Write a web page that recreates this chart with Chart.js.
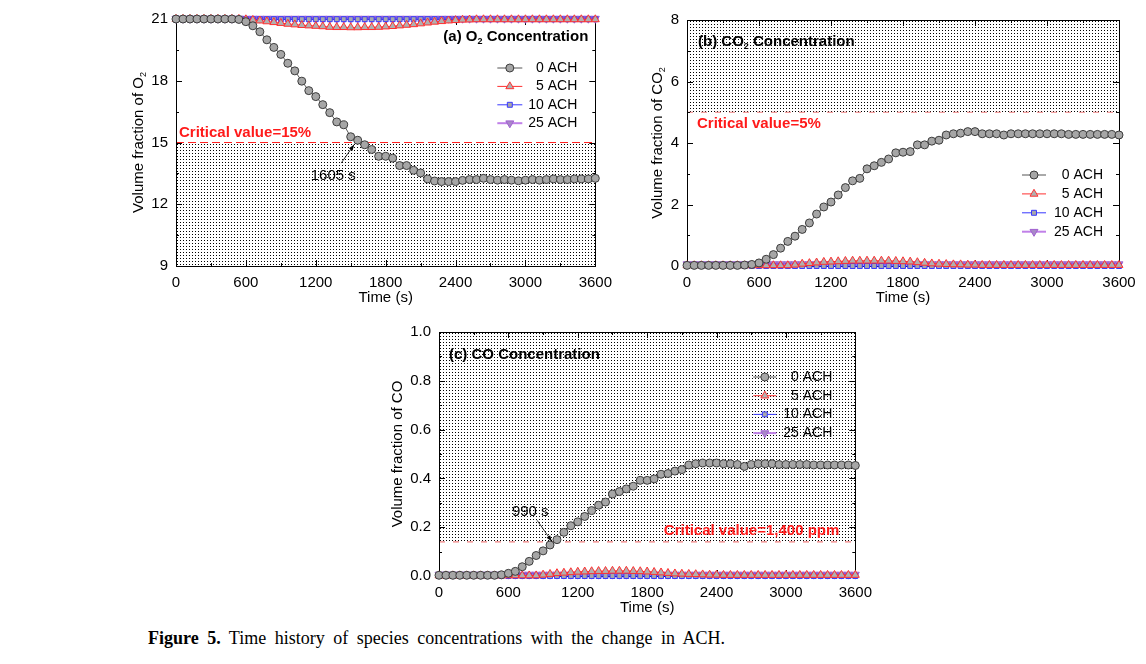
<!DOCTYPE html>
<html>
<head>
<meta charset="utf-8">
<script src="https://cdn.jsdelivr.net/npm/chart.js@4.4.1/dist/chart.umd.min.js"></script>
<style>
  body { margin: 0; background: #fff; width: 1146px; height: 664px; position: relative; overflow: hidden; }
  canvas { position: absolute; }
  #caption { position: absolute; left: 148px; top: 628px; font-family: "Liberation Serif", "Times New Roman", serif;
             font-size: 18px; white-space: nowrap; word-spacing: 4px; color: #000; }
</style>
</head>
<body>
<canvas id="chartA" width="500" height="310" style="left:120px;top:0px"></canvas>
<canvas id="chartB" width="516" height="310" style="left:630px;top:0px"></canvas>
<canvas id="chartC" width="500" height="305" style="left:380px;top:315px"></canvas>
<div id="caption"><b>Figure 5.</b> Time history of species concentrations with the change in ACH.</div>
<script>
// time axis (s), one sample every 60 s
const times = [0, 60, 120, 180, 240, 300, 360, 420, 480, 540,
  600, 660, 720, 780, 840, 900, 960, 1020, 1080, 1140,
  1200, 1260, 1320, 1380, 1440, 1500, 1560, 1620, 1680, 1740,
  1800, 1860, 1920, 1980, 2040, 2100, 2160, 2220, 2280, 2340,
  2400, 2460, 2520, 2580, 2640, 2700, 2760, 2820, 2880, 2940,
  3000, 3060, 3120, 3180, 3240, 3300, 3360, 3420, 3480, 3540,
  3600];

const seriesNames = ['0 ACH', '5 ACH', '10 ACH', '25 ACH'];

// (a) O2 volume fraction (%)
const o2_0ach = [21.0, 21.0, 21.0, 21.0, 21.0, 21.0, 21.0, 21.0, 21.0, 20.98,
  20.87, 20.67, 20.38, 19.99, 19.62, 19.28, 18.85, 18.48, 17.98, 17.52,
  17.23, 16.84, 16.45, 16.0, 15.86, 15.28, 15.11, 14.89, 14.66, 14.33,
  14.33, 14.24, 13.88, 13.88, 13.65, 13.52, 13.23, 13.13, 13.1, 13.1,
  13.1, 13.16, 13.2, 13.2, 13.26, 13.2, 13.17, 13.2, 13.17, 13.14,
  13.17, 13.2, 13.17, 13.2, 13.23, 13.2, 13.2, 13.23, 13.23, 13.23,
  13.26];
const o2_5ach = [21.0, 21.0, 21.0, 21.0, 21.0, 21.0, 21.0, 21.0, 21.0, 21.0,
  20.98, 20.95, 20.92, 20.88, 20.84, 20.8, 20.76, 20.73, 20.7, 20.68,
  20.66, 20.64, 20.61, 20.6, 20.6, 20.59, 20.59, 20.6, 20.6, 20.61,
  20.63, 20.65, 20.68, 20.71, 20.74, 20.78, 20.82, 20.86, 20.89, 20.92,
  20.94, 20.96, 20.97, 20.98, 20.98, 20.98, 20.98, 20.98, 20.98, 20.98,
  20.98, 20.98, 20.98, 20.98, 20.98, 20.98, 20.98, 20.98, 20.98, 20.98,
  20.98];
const o2_10ach = [20.99, 20.99, 20.99, 20.99, 20.99, 20.99, 20.99, 20.99, 20.99, 20.99,
  20.99, 20.99, 20.99, 20.99, 20.99, 20.99, 20.99, 20.99, 20.99, 20.99,
  20.99, 20.99, 20.99, 20.99, 20.99, 20.99, 20.99, 20.99, 20.99, 20.99,
  20.99, 20.99, 20.99, 20.99, 20.99, 20.99, 20.99, 20.99, 20.99, 20.99,
  20.99, 20.99, 20.99, 20.99, 20.99, 20.99, 20.99, 20.99, 20.99, 20.99,
  20.99, 20.99, 20.99, 20.99, 20.99, 20.99, 20.99, 20.99, 20.99, 20.99,
  20.99];
const o2_25ach = [21.02, 21.02, 21.02, 21.02, 21.02, 21.02, 21.02, 21.02, 21.02, 21.02,
  21.02, 21.02, 21.02, 21.02, 21.02, 21.02, 21.02, 21.02, 21.02, 21.02,
  21.02, 21.02, 21.02, 21.02, 21.02, 21.02, 21.02, 21.02, 21.02, 21.02,
  21.02, 21.02, 21.02, 21.02, 21.02, 21.02, 21.02, 21.02, 21.02, 21.02,
  21.02, 21.02, 21.02, 21.02, 21.02, 21.02, 21.02, 21.02, 21.02, 21.02,
  21.02, 21.02, 21.02, 21.02, 21.02, 21.02, 21.02, 21.02, 21.02, 21.02,
  21.02];

// (b) CO2 volume fraction (%)
const co2_0ach = [0.02, 0.02, 0.02, 0.02, 0.02, 0.02, 0.02, 0.02, 0.03, 0.05,
  0.1, 0.22, 0.37, 0.58, 0.8, 0.97, 1.19, 1.4, 1.69, 1.92,
  2.08, 2.31, 2.55, 2.77, 2.85, 3.16, 3.26, 3.37, 3.48, 3.68,
  3.7, 3.72, 3.94, 3.94, 4.06, 4.09, 4.26, 4.3, 4.32, 4.37,
  4.37, 4.3, 4.3, 4.3, 4.26, 4.3, 4.3, 4.3, 4.3, 4.3,
  4.3, 4.3, 4.3, 4.28, 4.28, 4.28, 4.28, 4.28, 4.28, 4.28,
  4.26];
const co2_5ach = [0.02, 0.02, 0.02, 0.02, 0.02, 0.02, 0.02, 0.02, 0.02, 0.02,
  0.02, 0.02, 0.02, 0.02, 0.02, 0.04, 0.07, 0.09, 0.11, 0.13,
  0.14, 0.15, 0.16, 0.17, 0.17, 0.17, 0.17, 0.17, 0.17, 0.16,
  0.15, 0.14, 0.12, 0.1, 0.08, 0.07, 0.06, 0.05, 0.05, 0.04,
  0.04, 0.03, 0.03, 0.03, 0.03, 0.03, 0.03, 0.03, 0.03, 0.03,
  0.03, 0.03, 0.03, 0.03, 0.03, 0.03, 0.03, 0.03, 0.03, 0.03,
  0.03];
const co2_10ach = [0.0, 0.0, 0.0, 0.0, 0.0, 0.0, 0.0, 0.0, 0.0, 0.0,
  0.0, 0.0, 0.0, 0.0, 0.0, 0.0, 0.0, 0.0, 0.0, 0.0,
  0.0, 0.0, 0.0, 0.0, 0.0, 0.0, 0.0, 0.0, 0.0, 0.0,
  0.0, 0.0, 0.0, 0.0, 0.0, 0.0, 0.0, 0.0, 0.0, 0.0,
  0.0, 0.0, 0.0, 0.0, 0.0, 0.0, 0.0, 0.0, 0.0, 0.0,
  0.0, 0.0, 0.0, 0.0, 0.0, 0.0, 0.0, 0.0, 0.0, 0.0,
  0.0];
const co2_25ach = [0.06, 0.06, 0.06, 0.06, 0.06, 0.06, 0.06, 0.06, 0.06, 0.06,
  0.06, 0.06, 0.06, 0.06, 0.06, 0.06, 0.06, 0.06, 0.06, 0.06,
  0.06, 0.06, 0.06, 0.06, 0.06, 0.06, 0.06, 0.06, 0.06, 0.06,
  0.06, 0.06, 0.06, 0.06, 0.06, 0.06, 0.06, 0.06, 0.06, 0.06,
  0.06, 0.06, 0.06, 0.06, 0.06, 0.06, 0.06, 0.06, 0.06, 0.06,
  0.06, 0.06, 0.06, 0.06, 0.06, 0.06, 0.06, 0.06, 0.06, 0.06,
  0.06];

// (c) CO volume fraction (%)
const co_0ach = [0.003, 0.003, 0.003, 0.003, 0.003, 0.003, 0.003, 0.003, 0.003, 0.005,
  0.011, 0.019, 0.038, 0.06, 0.084, 0.103, 0.127, 0.149, 0.179, 0.206,
  0.222, 0.244, 0.268, 0.29, 0.303, 0.336, 0.346, 0.357, 0.368, 0.392,
  0.392, 0.398, 0.417, 0.42, 0.43, 0.436, 0.455, 0.46, 0.463, 0.463,
  0.463, 0.46, 0.46, 0.457, 0.449, 0.457, 0.46, 0.46, 0.46, 0.457,
  0.457, 0.457, 0.457, 0.457, 0.455, 0.455, 0.455, 0.455, 0.455, 0.455,
  0.453];
const co_5ach = [0.002, 0.002, 0.002, 0.002, 0.002, 0.002, 0.002, 0.002, 0.002, 0.002,
  0.002, 0.002, 0.002, 0.002, 0.002, 0.005, 0.008, 0.011, 0.013, 0.015,
  0.017, 0.018, 0.019, 0.02, 0.02, 0.021, 0.021, 0.021, 0.02, 0.019,
  0.018, 0.016, 0.014, 0.012, 0.01, 0.009, 0.008, 0.007, 0.006, 0.005,
  0.005, 0.004, 0.004, 0.004, 0.004, 0.004, 0.004, 0.004, 0.004, 0.004,
  0.004, 0.004, 0.004, 0.004, 0.004, 0.004, 0.004, 0.004, 0.004, 0.004,
  0.004];
const co_10ach = [0.0, 0.0, 0.0, 0.0, 0.0, 0.0, 0.0, 0.0, 0.0, 0.0,
  0.0, 0.0, 0.0, 0.0, 0.0, 0.0, 0.0, 0.0, 0.0, 0.0,
  0.0, 0.0, 0.0, 0.0, 0.0, 0.0, 0.0, 0.0, 0.0, 0.0,
  0.0, 0.0, 0.0, 0.0, 0.0, 0.0, 0.0, 0.0, 0.0, 0.0,
  0.0, 0.0, 0.0, 0.0, 0.0, 0.0, 0.0, 0.0, 0.0, 0.0,
  0.0, 0.0, 0.0, 0.0, 0.0, 0.0, 0.0, 0.0, 0.0, 0.0,
  0.0];
const co_25ach = [0.006, 0.006, 0.006, 0.006, 0.006, 0.006, 0.006, 0.006, 0.006, 0.006,
  0.006, 0.006, 0.006, 0.006, 0.006, 0.006, 0.006, 0.006, 0.006, 0.006,
  0.006, 0.006, 0.006, 0.006, 0.006, 0.006, 0.006, 0.006, 0.006, 0.006,
  0.006, 0.006, 0.006, 0.006, 0.006, 0.006, 0.006, 0.006, 0.006, 0.006,
  0.006, 0.006, 0.006, 0.006, 0.006, 0.006, 0.006, 0.006, 0.006, 0.006,
  0.006, 0.006, 0.006, 0.006, 0.006, 0.006, 0.006, 0.006, 0.006, 0.006,
  0.006];

// marker / line look per series
const lineColors = ['#555555', '#ff3030', '#3838ff', '#c080e8'];
const lineWidths = [1, 1, 1, 2];
const markerStyles = ['circle', 'triangle', 'rect', 'triangle'];
const markerRot = [0, 0, 0, 180];
const markerSize = [4, 4.6, 3.5, 4.6];
const markerFill = ['#a6a6a6', '#b0b0b0', '#a8a8a8', '#a888c8'];
const markerEdge = ['#3c3c3c', '#ff3030', '#3838ff', '#a060d0'];

Chart.defaults.font.family = "'Liberation Sans', Arial, sans-serif";
const FONT = "'Liberation Sans', Arial, sans-serif";

function stipple(ctx) {
  const p = document.createElement('canvas');
  p.width = 3; p.height = 3;
  const g = p.getContext('2d');
  g.fillStyle = '#000';
  g.fillRect(0, 0, 1, 1);
  return ctx.createPattern(p, 'repeat');
}

// draw text made of normal / subscript pieces
function drawParts(ctx, parts, x, y, align, size, bold, color) {
  const main = (bold ? 'bold ' : '') + size + 'px ' + FONT;
  const sub = (bold ? 'bold ' : '') + Math.round(size * 0.62) + 'px ' + FONT;
  let w = 0;
  parts.forEach(([t, s]) => { ctx.font = s ? sub : main; w += ctx.measureText(t).width; });
  let cx = align === 'right' ? x - w : align === 'center' ? x - w / 2 : x;
  ctx.fillStyle = color;
  ctx.textAlign = 'left';
  ctx.textBaseline = 'middle';
  parts.forEach(([t, s]) => {
    ctx.font = s ? sub : main;
    ctx.fillText(t, cx, s ? y + size * 0.3 : y);
    cx += ctx.measureText(t).width;
  });
}

function arrow(ctx, x0, y0, x1, y1) {
  const ang = Math.atan2(y1 - y0, x1 - x0);
  ctx.strokeStyle = '#000';
  ctx.fillStyle = '#000';
  ctx.lineWidth = 0.8;
  ctx.beginPath(); ctx.moveTo(x0, y0); ctx.lineTo(x1, y1); ctx.stroke();
  ctx.beginPath();
  ctx.moveTo(x1, y1);
  ctx.lineTo(x1 - 6 * Math.cos(ang) + 2.2 * Math.sin(ang), y1 - 6 * Math.sin(ang) - 2.2 * Math.cos(ang));
  ctx.lineTo(x1 - 6 * Math.cos(ang) - 2.2 * Math.sin(ang), y1 - 6 * Math.sin(ang) + 2.2 * Math.cos(ang));
  ctx.closePath(); ctx.fill();
}

function makeDecor(p) {
  return {
    id: 'decor',
    beforeDatasetsDraw(chart) {
      const { ctx, chartArea: a, scales: { x, y } } = chart;
      ctx.save();
      // stippled region
      const s0 = y.getPixelForValue(p.shade[0]), s1 = y.getPixelForValue(p.shade[1]);
      ctx.fillStyle = stipple(ctx);
      ctx.fillRect(a.left, Math.min(s0, s1), a.right - a.left, Math.abs(s1 - s0));
      // critical value line
      const yc = y.getPixelForValue(p.critical);
      ctx.strokeStyle = p.critColor;
      ctx.lineWidth = 1.2;
      ctx.setLineDash(p.dash);
      ctx.beginPath(); ctx.moveTo(a.left, yc); ctx.lineTo(a.right, yc); ctx.stroke();
      ctx.setLineDash([]);
      // frame
      ctx.strokeStyle = '#000';
      ctx.lineWidth = 1;
      ctx.strokeRect(Math.round(a.left) + 0.5, Math.round(a.top) + 0.5,
        Math.round(a.right - a.left), Math.round(a.bottom - a.top));
      // inward ticks on all four sides
      ctx.beginPath();
      for (let v = 0; v <= 3600; v += 300) {
        const px = Math.round(x.getPixelForValue(v)) + 0.5;
        const len = v % 600 === 0 ? 6 : 3;
        ctx.moveTo(px, a.bottom); ctx.lineTo(px, a.bottom - len);
        ctx.moveTo(px, a.top); ctx.lineTo(px, a.top + len);
      }
      const n = Math.round((p.yMax - p.yMin) / (p.yStep / 2));
      for (let i = 0; i <= n; i++) {
        const v = p.yMin + i * p.yStep / 2;
        const py = Math.round(y.getPixelForValue(v)) + 0.5;
        const len = i % 2 === 0 ? 6 : 3;
        ctx.moveTo(a.left, py); ctx.lineTo(a.left + len, py);
        ctx.moveTo(a.right, py); ctx.lineTo(a.right - len, py);
      }
      ctx.stroke();
      ctx.restore();
    },
    afterDatasetsDraw(chart) {
      const { ctx, chartArea: a, scales: { x, y } } = chart;
      ctx.save();
      // y axis title
      ctx.translate(a.left - p.yTitleOff, (a.top + a.bottom) / 2);
      ctx.rotate(-Math.PI / 2);
      drawParts(ctx, p.yTitle, 0, 0, 'center', 15, false, '#000');
      ctx.restore();

      ctx.save();
      // panel title
      const t = p.title;
      drawParts(ctx, t.parts, t.align === 'right' ? a.right - t.dx : a.left + t.dx, a.top + t.dy,
        t.align, 15, true, '#000');
      // critical value text
      const yc = y.getPixelForValue(p.critical);
      const c = p.critText;
      drawParts(ctx, [[c.text, 0]], c.align === 'right' ? a.right - c.dx : a.left + c.dx, yc + c.dy,
        c.align, 15, true, '#ff1a1a');
      // annotation arrow
      if (p.note) {
        const m = p.note;
        ctx.font = '15px ' + FONT;
        ctx.fillStyle = '#000';
        ctx.textAlign = 'center';
        ctx.textBaseline = 'middle';
        ctx.fillText(m.text, x.getPixelForValue(m.at[0]), y.getPixelForValue(m.at[1]));
        arrow(ctx, x.getPixelForValue(m.from[0]), y.getPixelForValue(m.from[1]),
          x.getPixelForValue(m.to[0]), y.getPixelForValue(m.to[1]));
      }
      // legend
      const L = p.legend;
      seriesNames.forEach((name, i) => {
        const ly = a.top + L.y0 + i * L.dy;
        ctx.strokeStyle = lineColors[i];
        ctx.lineWidth = lineWidths[i];
        ctx.beginPath(); ctx.moveTo(a.right - L.l0, ly); ctx.lineTo(a.right - L.l1, ly); ctx.stroke();
        ctx.fillStyle = markerFill[i];
        ctx.strokeStyle = markerEdge[i];
        ctx.lineWidth = 1;
        Chart.helpers.drawPoint(ctx, { pointStyle: markerStyles[i], radius: markerSize[i],
          rotation: markerRot[i], borderWidth: 1 }, a.right - (L.l0 + L.l1) / 2, ly);
        ctx.font = '14px ' + FONT;
        ctx.fillStyle = '#000';
        ctx.textAlign = 'right';
        ctx.textBaseline = 'middle';
        ctx.fillText(name, a.right - L.tr, ly);
      });
      ctx.restore();
    }
  };
}

function panel(id, p) {
  const datasets = p.series.map((vals, i) => ({
    label: seriesNames[i],
    data: times.map((t, k) => ({ x: t, y: vals[k] })),
    borderColor: lineColors[i],
    borderWidth: lineWidths[i],
    pointStyle: markerStyles[i],
    pointRotation: markerRot[i],
    pointRadius: markerSize[i],
    pointBackgroundColor: markerFill[i],
    pointBorderColor: markerEdge[i],
    pointBorderWidth: 1,
    tension: 0,
    clip: false
  }));
  new Chart(document.getElementById(id), {
    type: 'line',
    data: { datasets },
    options: {
      responsive: false,
      animation: false,
      events: [],
      layout: { padding: { top: p.padTop, right: p.padRight, left: 0, bottom: 0 } },
      plugins: { legend: { display: false }, tooltip: { enabled: false } },
      scales: {
        x: {
          type: 'linear', min: 0, max: 3600,
          grid: { display: false, drawTicks: false }, border: { display: false },
          ticks: { stepSize: 600, padding: 8, color: '#000', font: { size: 15 }, maxRotation: 0,
                   callback: v => String(v) },
          title: { display: true, text: 'Time (s)', color: '#000', font: { size: 15 }, padding: { top: 0, bottom: 3 } },
          afterFit: s => { s.height = 44; }
        },
        y: {
          type: 'linear', min: p.yMin, max: p.yMax,
          grid: { display: false, drawTicks: false }, border: { display: false },
          ticks: { stepSize: p.yStep, padding: 8, color: '#000', font: { size: 15 }, callback: p.fmt },
          afterFit: s => { s.width = p.yWidth; }
        }
      }
    },
    plugins: [makeDecor(p)]
  });
}

panel('chartA', {
  series: [o2_0ach, o2_5ach, o2_10ach, o2_25ach],
  yMin: 9, yMax: 21, yStep: 3, fmt: v => String(v),
  padTop: 19, padRight: 20, yWidth: 56, yTitleOff: 37,
  yTitle: [['Volume fraction of O', 0], ['2', 1]],
  shade: [9, 15], critical: 15, critColor: '#ff2020', dash: [8, 4],
  critText: { text: 'Critical value=15%', align: 'left', dx: 3, dy: -10 },
  title: { parts: [['(a) O', 0], ['2', 1], [' Concentration', 0]], align: 'right', dx: 7, dy: 18 },
  note: { text: '1605 s', at: [1350, 13.37], from: [1418, 14.0], to: [1530, 14.9] },
  legend: { tr: 18, l0: 98, l1: 73, y0: 49, dy: 18.4 }
});

panel('chartB', {
  series: [co2_0ach, co2_5ach, co2_10ach, co2_25ach],
  yMin: 0, yMax: 8, yStep: 2, fmt: v => String(v),
  padTop: 20, padRight: 27, yWidth: 57, yTitleOff: 29,
  yTitle: [['Volume fraction of CO', 0], ['2', 1]],
  shade: [5, 8], critical: 5, critColor: '#f08080', dash: [6, 8],
  critText: { text: 'Critical value=5%', align: 'left', dx: 10, dy: 12 },
  title: { parts: [['(b) CO', 0], ['2', 1], [' Concentration', 0]], align: 'left', dx: 11, dy: 22 },
  note: null,
  legend: { tr: 16, l0: 97, l1: 73, y0: 155, dy: 18.9 }
});

panel('chartC', {
  series: [co_0ach, co_5ach, co_10ach, co_25ach],
  yMin: 0, yMax: 1, yStep: 0.2, fmt: v => v.toFixed(1),
  padTop: 15, padRight: 21, yWidth: 59, yTitleOff: 41,
  yTitle: [['Volume fraction of CO', 0]],
  shade: [0.14, 1], critical: 0.14, critColor: '#f08080', dash: [6, 8],
  critText: { text: 'Critical value=1,400 ppm', align: 'right', dx: 16, dy: -11 },
  title: { parts: [['(c) CO Concentration', 0]], align: 'left', dx: 10, dy: 23 },
  note: { text: '990 s', at: [789, 0.264], from: [849, 0.228], to: [975, 0.142] },
  legend: { tr: 23, l0: 102, l1: 79, y0: 45, dy: 18.7 }
});
</script>
</body>
</html>
